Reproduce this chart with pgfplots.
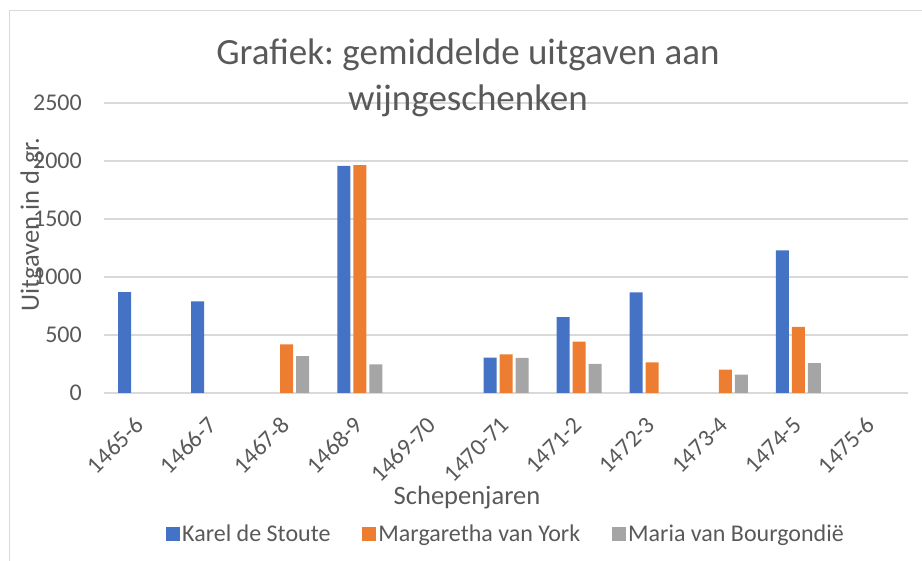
\documentclass[border=0pt]{standalone}
\usepackage{pgfplots}
\pgfplotsset{compat=1.18}
\usepackage{fontspec}
\setmainfont{Carlito}
\frenchspacing
\definecolor{cK}{HTML}{4472C4}
\definecolor{cM}{HTML}{ED7D31}
\definecolor{cB}{HTML}{A5A5A5}
\definecolor{txt}{HTML}{595959}
\definecolor{grd}{HTML}{D9D9D9}

% categories 0..10 = 1465-6 ... 1475-6, empty cells as nan
\pgfplotstableread{
x K M B
0 870 nan nan
1 790 nan nan
2 nan 420 318
3 1957 1965 247
4 nan nan nan
5 304 333 302
6 655 442 250
7 867 264 nan
8 nan 201 158
9 1229 569 257
10 nan nan nan
}\wijn

\begin{document}
\begin{tikzpicture}
\useasboundingbox (-104pt,-168pt) rectangle (818pt,393pt);
\draw[grd, line width=1pt] (-94pt,-168pt) -- (-94pt,382pt) -- (818pt,382pt);
\begin{axis}[scale only axis, width=804pt, height=290pt,
    ybar=3pt, bar width=13pt,
    xmin=-0.5, xmax=10.5, ymin=0, ymax=2500,
    xtick={0,...,10},
    xticklabels={1465-6,1466-7,1467-8,1468-9,1469-70,1470-71,1471-2,1472-3,1473-4,1474-5,1475-6},
    ytick={0,500,...,2500},
    ymajorgrids, grid style={grd, line width=1.5pt},
    axis line style={draw=none}, major tick length=0pt,
    tick label style={font=\fontsize{24}{28}\selectfont, text=txt},
    /pgf/number format/assume math mode=true,
    /pgf/number format/1000 sep={},
    yticklabel style={anchor=east, inner sep=0pt, xshift=-22pt},
    xticklabel style={yshift=-28pt, xshift=-1pt, rotate=45, anchor=east, inner sep=0pt},
    unbounded coords=discard,
    legend style={at={(0.5,-0.486)}, anchor=center, draw=none, fill=none,
      legend columns=3, font=\fontsize{24}{28}\selectfont, text=txt,
      /tikz/every even column/.append style={column sep=30pt}},
    legend image code/.code={\fill[#1] (0pt,-7pt) rectangle (14pt,7pt);},
    ]
\addplot[fill=cK, draw=none] table[x=x, y=K] {\wijn}; \addlegendentry{Karel de Stoute}
\addplot[fill=cM, draw=none] table[x=x, y=M] {\wijn}; \addlegendentry{Margaretha van York}
\addplot[fill=cB, draw=none] table[x=x, y=B] {\wijn}; \addlegendentry{Maria van Bourgondië}
\end{axis}
\node[anchor=base, text=txt, font=\fontsize{37}{44}\selectfont] at (364pt,328pt) {Grafiek: gemiddelde uitgaven aan};
\node[anchor=base, text=txt, font=\fontsize{37}{44}\selectfont] at (364pt,282pt) {wijngeschenken};
\node[rotate=90, text=txt, font=\fontsize{26.5}{30}\selectfont] at (-72pt,168pt) {Uitgaven in d.gr.};
\node[anchor=base, text=txt, font=\fontsize{26.5}{30}\selectfont] at (363pt,-112pt) {Schepenjaren};
\end{tikzpicture}
\end{document}
